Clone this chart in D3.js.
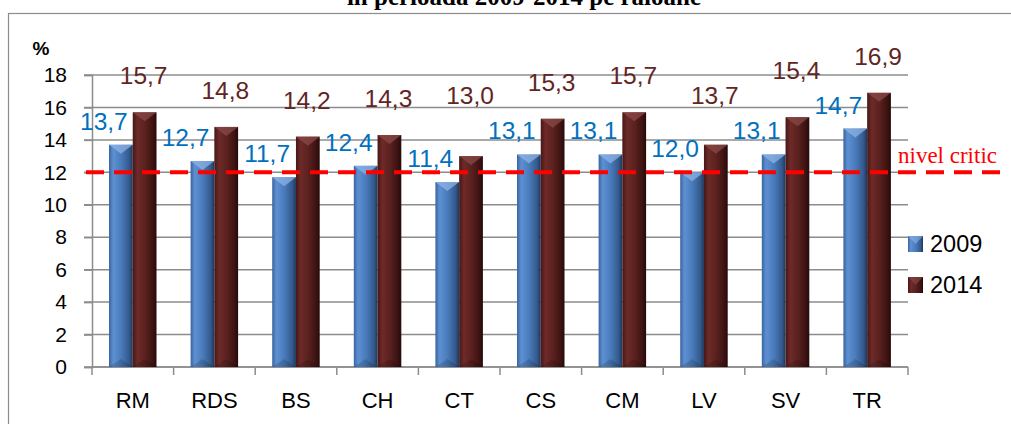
<!DOCTYPE html>
<html lang="ro">
<head>
<meta charset="UTF-8">
<title>Nivel critic pe raioane</title>
<script src="https://d3js.org/d3.v7.min.js"></script>
<style>
  body { margin: 0; background: #fff; }
  svg { display: block; }
  text { font-family: "Liberation Sans", Arial, sans-serif; }
</style>
</head>
<body>
<div id="chart"></div>
<script>
// data
const raioane = ["RM", "RDS", "BS", "CH", "CT", "CS", "CM", "LV", "SV", "TR"];
const ani = ["2009", "2014"];
const val2009 = [13.7, 12.7, 11.7, 12.4, 11.4, 13.1, 13.1, 12.0, 13.1, 14.7];
const val2014 = [15.7, 14.8, 14.2, 14.3, 13.0, 15.3, 15.7, 13.7, 15.4, 16.9];
const yTicks = [0, 2, 4, 6, 8, 10, 12, 14, 16, 18];
const nivelCritic = 12;

const W = 1011, H = 424;
const svg = d3.select("#chart").append("svg").attr("width", W).attr("height", H);

// gradients for the cylinder look
const defs = svg.append("defs");
function grad(id, stops) {
  const g = defs.append("linearGradient").attr("id", id)
    .attr("x1", "0%").attr("x2", "100%").attr("y1", "0%").attr("y2", "0%");
  stops.forEach(s => g.append("stop").attr("offset", s[0]).attr("stop-color", s[1]));
}
grad("gBlue", [["0%", "#3a659e"], ["18%", "#5d90d2"], ["50%", "#4a7cbc"], ["85%", "#33598c"], ["100%", "#1e3659"]]);
grad("gRed", [["0%", "#451716"], ["20%", "#6d2a28"], ["50%", "#5c2220"], ["85%", "#3c1312"], ["100%", "#250a09"]]);
const colors = { "2009": { fill: "url(#gBlue)", top: "#8db3e6", label: "#0070c0" },
                 "2014": { fill: "url(#gRed)", top: "#8a4a47", label: "#632523" } };

// frame + title (title is cut by the top edge, as in the source)
svg.append("rect").attr("x", 8.5).attr("y", 13.5).attr("width", W + 10).attr("height", H)
  .attr("fill", "none").attr("stroke", "#8c8c8c").attr("stroke-width", 1.2);
svg.append("text").attr("x", 524).attr("y", 5).attr("text-anchor", "middle")
  .style("font-family", "'Liberation Serif', 'Times New Roman', serif")
  .style("font-weight", "bold").style("font-size", "25px")
  .text("în perioada 2009-2014 pe raioane");

// scales
const x0 = d3.scaleBand().domain(raioane).range([92, 908]).padding(0);
const x1 = d3.scaleBand().domain(ani).range([17, 64.5]).padding(0);
const y = d3.scaleLinear().domain([0, 18]).range([367, 75]);

// gridlines
svg.append("g").selectAll("line").data(yTicks).join("line")
  .attr("x1", 84).attr("x2", 908)
  .attr("y1", d => y(d)).attr("y2", d => y(d))
  .attr("stroke", "#8c8c8c").attr("stroke-width", 1.5);

// y axis
const yAxis = svg.append("g").attr("transform", "translate(92,0)")
  .call(d3.axisLeft(y).tickValues(yTicks).tickSize(8).tickPadding(17));
yAxis.select(".domain").attr("stroke", "#8c8c8c").attr("stroke-width", 1.5);
yAxis.selectAll(".tick line").attr("stroke", "#8c8c8c").attr("stroke-width", 1.5);
yAxis.selectAll(".tick text").style("font-size", "21px").attr("fill", "#000")
  .style("font-family", "'Liberation Sans', Arial, sans-serif");

// x axis: ticks on category boundaries
const bounds = raioane.map(r => x0(r)).concat([908]);
svg.append("line").attr("x1", 92).attr("x2", 908).attr("y1", y(0)).attr("y2", y(0))
  .attr("stroke", "#8c8c8c").attr("stroke-width", 1.5);
svg.append("g").selectAll("line").data(bounds).join("line")
  .attr("x1", d => d).attr("x2", d => d).attr("y1", y(0)).attr("y2", y(0) + 8)
  .attr("stroke", "#8c8c8c").attr("stroke-width", 1.5);
svg.append("g").selectAll("text").data(raioane).join("text")
  .attr("x", d => x0(d) + x0.bandwidth() / 2).attr("y", 408)
  .attr("text-anchor", "middle").style("font-size", "22px").text(d => d);

// "%"
svg.append("text").attr("x", 41).attr("y", 55).attr("text-anchor", "middle")
  .style("font-weight", "bold").style("font-size", "19px").text("%");

// bars
const rows = raioane.map((r, i) => ({ r, vals: [{ an: "2009", v: val2009[i] }, { an: "2014", v: val2014[i] }] }));
const groups = svg.append("g").selectAll("g").data(rows).join("g")
  .attr("transform", d => `translate(${x0(d.r)},0)`);
const bw = x1.bandwidth();
const bars = groups.selectAll("g.bar").data(d => d.vals).join("g").attr("class", "bar");
bars.append("rect")
  .attr("x", d => x1(d.an)).attr("y", d => y(d.v))
  .attr("width", bw).attr("height", d => y(0) - y(d.v))
  .attr("fill", d => colors[d.an].fill);
// pyramid-like bevel on top and bottom
bars.append("path")
  .attr("d", d => {
    const xl = x1(d.an), xr = xl + bw, yt = y(d.v);
    return `M${xl},${yt}L${xr},${yt}L${xl + bw / 2},${yt + 9}Z`;
  })
  .attr("fill", d => colors[d.an].top).attr("opacity", 0.75);
bars.append("path")
  .attr("d", d => {
    const xl = x1(d.an), xr = xl + bw, yb = y(0);
    return `M${xl},${yb}L${xr},${yb}L${xl + bw / 2},${yb - 8}Z`;
  })
  .attr("fill", "#000").attr("opacity", 0.15);

// value labels (2009 to the upper left of its bar, 2014 higher up)
const labels = bars.append("text")
  .attr("class", d => "lbl lbl" + d.an)
  .attr("x", d => x1(d.an) + bw / 2 + (d.an === "2009" ? -17 : -1))
  .attr("y", d => y(d.v) - (d.an === "2009" ? 15 : 28))
  .attr("text-anchor", "middle").style("font-size", "24.5px")
  .attr("fill", d => colors[d.an].label)
  .text(d => d3.format(".1f")(d.v).replace(".", ","));

// push a 2014 label up if it runs into the next group's 2009 label
const l09 = svg.selectAll("text.lbl2009").nodes();
const l14 = svg.selectAll("text.lbl2014").nodes();
function box(n) {
  const b = n.getBBox(), m = n.parentNode.parentNode.transform.baseVal.consolidate().matrix;
  return { x0: b.x + m.e, x1: b.x + b.width + m.e, y0: b.y, y1: b.y + b.height };
}
l14.forEach((n, i) => {
  if (i + 1 >= l09.length) return;
  const a = box(n), b = box(l09[i + 1]);
  const ov = a.x1 > b.x0 + 1 && a.x0 < b.x1 && a.y1 > b.y0 && a.y0 < b.y1;
  if (ov) {
    const cur = +d3.select(n).attr("y");
    d3.select(n).attr("y", cur - (a.y1 - b.y0) - 8);
  }
});

// critical level line
svg.append("line").attr("x1", 86).attr("x2", 1000)
  .attr("y1", y(nivelCritic)).attr("y2", y(nivelCritic))
  .attr("stroke", "#ff0000").attr("stroke-width", 4).attr("stroke-dasharray", "18,10");
svg.append("text").attr("x", 898).attr("y", 163)
  .style("font-family", "'Liberation Serif', 'Times New Roman', serif")
  .style("font-size", "23px").attr("fill", "#ff0000").text("nivel critic");

// legend
const leg = svg.append("g").selectAll("g").data(ani).join("g")
  .attr("transform", (d, i) => `translate(908,${236 + i * 41})`);
leg.append("rect").attr("width", 15).attr("height", 16).attr("fill", d => colors[d].fill);
leg.append("path").attr("d", "M0,0L15,0L7.5,8Z").attr("fill", d => colors[d].top).attr("opacity", 0.6);
leg.append("text").attr("x", 22).attr("y", 16).style("font-size", "23.5px").text(d => d);
</script>
</body>
</html>
